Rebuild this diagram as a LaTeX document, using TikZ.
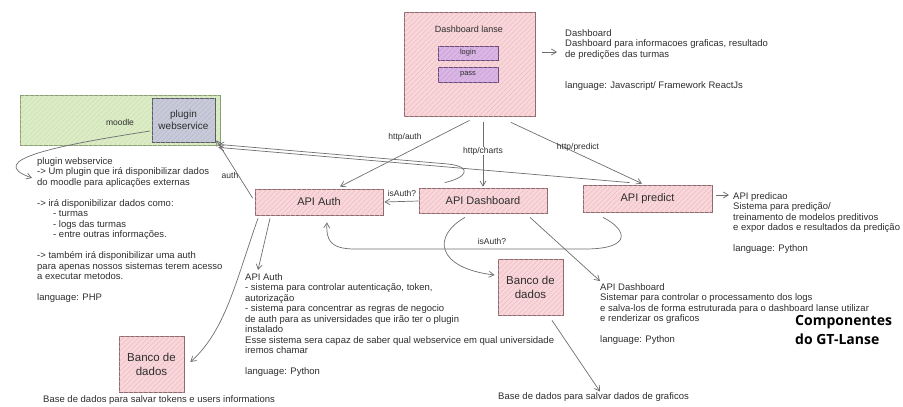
\documentclass[tikz,border=0pt]{standalone}
\usepackage{fontspec}
\setmainfont{Liberation Sans}
\newfontfamily\titlefont{Open Sans}
\usetikzlibrary{arrows.meta,patterns.meta}
\definecolor{pinkfill}{HTML}{F8D6D9}
\definecolor{pinkhatch}{HTML}{EBB7BC}
\definecolor{pinkline}{HTML}{8E6A6E}
\definecolor{purpfill}{HTML}{D9B6E4}
\definecolor{purphatch}{HTML}{C79AD6}
\definecolor{purpline}{HTML}{6B4C78}
\definecolor{greenfill}{HTML}{DCECC6}
\definecolor{greenhatch}{HTML}{C8DFAA}
\definecolor{greenline}{HTML}{8A9E76}
\definecolor{greyfill}{HTML}{C9CAD9}
\definecolor{greyhatch}{HTML}{B3B4C6}
\definecolor{greyline}{HTML}{5A5A66}
\definecolor{conn}{HTML}{6E6E6E}
\definecolor{ink}{HTML}{2E2E2E}
\tikzset{
  hatchbox/.style n args={3}{draw=#3, line width=0.8pt, fill=#1,
    postaction={pattern={Lines[angle=45,distance=3.5pt,line width=0.35pt]}, pattern color=#2},
    inner sep=0pt, align=center, text=ink},
  pinkbox/.style={hatchbox={pinkfill}{pinkhatch}{pinkline}},
  apibox/.style={pinkbox, font=\fontsize{11}{13}\selectfont},
  dbbox/.style={pinkbox, minimum width=65pt, minimum height=56pt, font=\fontsize{11.5}{14}\selectfont},
  fieldbox/.style={hatchbox={purpfill}{purphatch}{purpline}, minimum width=60pt, font=\fontsize{7.5}{9}\selectfont},
  desc/.style={anchor=north west, inner sep=0pt, align=left, text=ink, font=\fontsize{9.5}{10.5}\selectfont},
  lbl/.style={inner sep=0.5pt, text=ink, font=\fontsize{8.5}{9.5}\selectfont},
  arr/.style={draw=conn, line width=0.7pt, -{Straight Barb[length=5pt,width=6pt]}},
}
\begin{document}
\begin{tikzpicture}[x=1pt,y=-1pt]
\useasboundingbox (0,0) rectangle (903,407);

% ---------- boxes ----------
\node[pinkbox, minimum width=131pt, minimum height=104pt] (dash) at (469.5,64) {};
\node[ink, font=\fontsize{9}{10}\selectfont] (dashtitle) at (469,29) {Dashboard lanse};
\node[fieldbox, minimum height=14pt] (login) at (468,53) {login};
\node[fieldbox, minimum height=15pt] (pass) at (468,74.5) {pass};

\node[hatchbox={greenfill}{greenhatch}{greenline}, minimum width=200pt, minimum height=50pt] (moodle) at (120,120) {};
\node[lbl] (moodlelbl) at (120,122) {moodle};
\node[hatchbox={greyfill}{greyhatch}{greyline}, minimum width=63pt, minimum height=44pt,
      font=\fontsize{10}{11.5}\selectfont] (plugin) at (183.5,120) {plugin\\webservice};

\node[apibox, minimum width=128pt, minimum height=26pt] (apiauth) at (319,202) {API Auth};
\node[apibox, minimum width=128pt, minimum height=25pt] (apidash) at (483,200.5) {API Dashboard};
\node[apibox, minimum width=129pt, minimum height=27pt] (predict) at (647.5,198.5) {API predict};

\node[dbbox] (banco2) at (530.5,287) {Banco de\\dados};
\node[dbbox] (banco1) at (151.5,364) {Banco de\\dados};

% ---------- descriptions ----------
\node[desc] (dashtxt) at (565,29) {Dashboard\\
Dashboard para informacoes graficas, resultado\\
de predições das turmas\\[21pt]
language: Javascript/ Framework ReactJs};

\node[desc] (plugtxt) at (37,157) {plugin webservice\\
-> Um plugin que irá disponibilizar dados\\
do moodle para aplicações externas\\[10.5pt]
-> irá disponibilizar dados como:\\
\hspace*{16pt}- turmas\\
\hspace*{16pt}- logs das turmas\\
\hspace*{16pt}- entre outras informações.\\[10.5pt]
-> também irá disponibilizar uma auth\\
para apenas nossos sistemas terem acesso\\
a executar metodos.\\[10.5pt]
language: PHP};

\node[desc] (authtxt) at (245,273) {API Auth\\
- sistema para controlar autenticação, token,\\
autorização\\
- sistema para concentrar as regras de negocio\\
de auth para as universidades que irão ter o plugin\\
instalado\\
Esse sistema sera capaz de saber qual webservice em qual universidade\\
iremos chamar\\[10.5pt]
language: Python};

\node[desc] (apidtxt) at (600,283) {API Dashboard\\
Sistemar para controlar o processamento dos logs\\
e salva-los de forma estruturada para o dashboard lanse utilizar\\
e renderizar os graficos\\[10.5pt]
language: Python};

\node[desc] (predtxt) at (733,192) {API predicao\\
Sistema para predição/\\
treinamento de modelos preditivos\\
e expor dados e resultados da predição\\[10.5pt]
language: Python};

\node[desc] (base1) at (43,395.5) {Base de dados para salvar tokens e users informations};
\node[desc] (base2) at (498,392.5) {Base de dados para salvar dados de graficos};

\node[anchor=north west, inner sep=0pt, align=left, text=black,
      font=\titlefont\bfseries\fontsize{14}{19}\selectfont] (title) at (795,315) {Componentes\\do GT-Lanse};

% ---------- connectors ----------
\draw[arr] ([xshift=7pt,yshift=12pt]dash.east) -- ([xshift=-8pt,yshift=-23pt]dashtxt.north west);
\draw[arr] ([xshift=-1.5pt,yshift=-11pt]plugin.west) .. controls (60,145) and (-18,160) .. ([xshift=-5pt,yshift=-21pt]plugtxt.north west);

\draw[arr] ([yshift=-4pt]dash.south) -- ([xshift=21pt,yshift=2pt]apiauth.north);
\node[lbl] (lhttpauth) at (405,137) {http/auth};
\draw[arr] ([xshift=13.5pt,yshift=-6pt]dash.south) -- ([yshift=1pt]apidash.north);
\node[lbl, fill=white] (lhttpcharts) at (483,151) {http/charts};
\draw[arr] ([xshift=41.5pt,yshift=-6pt]dash.south) -- ([xshift=-5.5pt,yshift=1pt]predict.north);
\node[lbl] (lhttppred) at (578,147) {http/predict};

\draw[arr] ([xshift=-2pt,yshift=4pt]apiauth.west) -- ([xshift=1pt,yshift=2pt]plugin.south east);
\node[lbl] (lauth) at (230,175) {auth};
\draw[arr] ([xshift=47pt,yshift=2pt]predict.north west) -- ([xshift=3pt,yshift=-5pt]plugin.south east);
\draw[arr] ([xshift=26pt,yshift=5pt]apidash.north west) .. controls (466,178) and (474,167) .. (448,164) -- ([xshift=3pt,yshift=-2pt]plugin.south east);

\draw[arr] ([yshift=-0.5pt]apidash.west) -- ([xshift=1pt]apiauth.east);
\node[lbl] (lisauth1) at (402,193.5) {isAuth?};

\draw[arr] ([xshift=-44.5pt,yshift=-5pt]predict.south) .. controls (628,230) and (632,249) .. (585,249)
  -- (355,249) .. controls (330,249) and (326,240) .. ([xshift=8pt,yshift=-7pt]apiauth.south);
\node[lbl] (lisauth2) at (492,241) {isAuth?};

\draw[arr] ([xshift=-18pt,yshift=-4pt]apidash.south) .. controls (432,236) and (436,268) .. ([xshift=-3pt,yshift=12pt]banco2.west);
\draw[arr] ([xshift=47pt,yshift=-4pt]apidash.south) -- ([yshift=2pt]apidtxt.north west);
\draw[arr] ([xshift=21.5pt,yshift=-5pt]banco2.south) -- ([xshift=102pt,yshift=1pt]base2.north west);

\draw[arr] ([xshift=-49pt,yshift=-3pt]apiauth.south) -- ([xshift=13pt,yshift=3pt]authtxt.north west);
\draw[arr] ([xshift=-61pt,yshift=-3pt]apiauth.south) .. controls (236,280) and (226,330) .. ([xshift=6pt,yshift=2pt]banco1.east);

\draw[arr] ([xshift=4pt,yshift=3.5pt]predict.east) -- ([xshift=-4pt,yshift=-3pt]predtxt.north west);
\end{tikzpicture}
\end{document}
